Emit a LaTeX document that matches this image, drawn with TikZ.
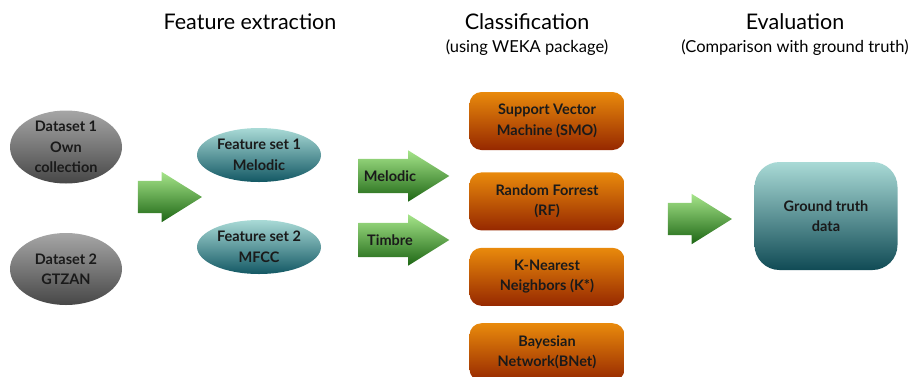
\documentclass[tikz,border=0pt]{standalone}
\usepackage{fontspec}
\setmainfont{Lato}
\usepackage{tikz}
\usetikzlibrary{positioning,shapes.geometric,shapes.arrows}

\definecolor{grayTop}{HTML}{A6A6A6}
\definecolor{grayBot}{HTML}{474747}
\definecolor{tealTop}{HTML}{A9DAD6}
\definecolor{tealBot}{HTML}{135864}
\definecolor{orgTop}{HTML}{E98A0C}
\definecolor{orgBot}{HTML}{962800}
\definecolor{greenTop}{HTML}{A6E58A}
\definecolor{greenBot}{HTML}{1D6614}
\definecolor{inkDark}{HTML}{1A1A1A}

\begin{document}
\begin{tikzpicture}[
			x=1pt, y=-1pt,
			node distance=17pt,
			heading/.style = {font=\fontsize{21.5}{26}\selectfont},
			subheading/.style = {font=\fontsize{16.5}{20}\selectfont},
			boxtext/.style = {align=center, text=inkDark, font=\fontsize{14.5}{20.5}\selectfont\bfseries},
			dataset/.style = {boxtext, ellipse, inner sep=0pt, minimum width=112pt, minimum height=72pt, top color=grayTop, bottom color=grayBot},
			featset/.style = {boxtext, ellipse, inner sep=0pt, minimum width=124pt, minimum height=54pt, top color=tealTop, bottom color=tealBot},
			classifier/.style = {boxtext, rectangle, rounded corners=12pt, minimum width=155pt, minimum height=58pt, top color=orgTop, bottom color=orgBot},
			bigarrow/.style = {single arrow, single arrow tip angle=64, single arrow head extend=9pt, inner xsep=0pt, inner ysep=16pt, minimum height=64pt, minimum width=50pt, top color=greenTop, bottom color=greenBot},
			namedarrow/.style = {bigarrow, boxtext, single arrow head extend=8.5pt, text height=10pt, text depth=0pt, inner ysep=12pt, minimum height=91pt, minimum width=51pt}
		]
		\useasboundingbox (0,0) rectangle (924,376);
		\clip (0,0) rectangle (924,376);
		% Headings.
		\node[heading] (hfeat) at (250,22) {Feature extraction};
		\node[heading] (hclass) at (527,22) {Classification};
		\node[subheading] (sclass) at (527,48) {(using WEKA package)};
		\node[heading] (heval) at (795,22) {Evaluation};
		\node[subheading] (seval) at (795,48) {(Comparison with ground truth)};
		% Datasets.
		\node[dataset] (ds1) at (66,147) {Dataset 1\\Own\\collection};
		\node[dataset] (ds2) at (66,269) {Dataset 2\\GTZAN};
		\node[bigarrow] (a1) at (157,197) {};
		% Feature sets.
		\node[featset] (fs1) at (259,155) {Feature set 1\\Melodic};
		\node[featset] (fs2) at (259,247) {Feature set 2\\MFCC};
		\node[namedarrow] (amel) at (390,176) {Melodic};
		\node[namedarrow] (atim) at (390,240) {Timbre};
		% Classifiers.
		\node[classifier] (smo) at (547,121) {Support Vector\\Machine (SMO)};
		\node[classifier, below=22pt of smo] (rf) {Random Forrest\\(RF)};
		\node[classifier, below=of rf] (knn) {K-Nearest\\Neighbors (K*)};
		\node[classifier, below=of knn] (bnet) {Bayesian\\Network(BNet)};
		% Evaluation.
		\node[bigarrow] (a2) at (687,219) {};
		\node[boxtext, rectangle, rounded corners=25pt, minimum width=143pt, minimum height=108pt, top color=tealTop, bottom color=tealBot!85!black] (gt) at (826,216) {Ground truth\\data};
	\end{tikzpicture}
\end{document}
